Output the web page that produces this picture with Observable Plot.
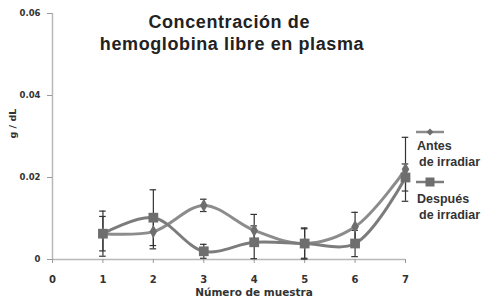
<!DOCTYPE html>
<html>
<head>
<meta charset="utf-8">
<script src="https://cdn.jsdelivr.net/npm/d3@7"></script>
<script src="https://cdn.jsdelivr.net/npm/@observablehq/plot@0.6"></script>
<style>
  body { margin: 0; background: #fff; }
  #wrap { position: relative; width: 495px; height: 306px; font-family: "Liberation Sans", Arial, sans-serif; }
  .title { position: absolute; left: 82px; width: 300px; text-align: center; font-weight: bold; font-size: 18px; letter-spacing: 0.6px; color: #222; line-height: 22px; top: 11px; white-space: nowrap; }
  .leg { position: absolute; left: 417px; font-weight: bold; font-size: 12.5px; color: #333; line-height: 16px; white-space: nowrap; }
  .leg span { display: block; }
  .leg span + span { padding-left: 2px; }
  .legsym { position: absolute; left: 414px; }
</style>
</head>
<body>
<div id="wrap"></div>
<script>
const titleLines = ["Concentración de", "hemoglobina libre en plasma"];
const xLabel = "Número de muestra";
const yLabel = "g / dL";
const seriesNames = ["Antes de irradiar", "Después de irradiar"];
const samples = [1, 2, 3, 4, 5, 6, 7];
const antes = [0.0063, 0.0068, 0.0132, 0.0071, 0.0039, 0.0080, 0.0220];
const antesErr = [0.0055, 0.0042, 0.0015, 0.0039, 0.0038, 0.0035, 0.0078];
const despues = [0.0063, 0.0102, 0.0020, 0.0042, 0.0039, 0.0039, 0.0200];
const despuesErr = [0.0042, 0.0068, 0.0017, 0.0040, 0.0036, 0.0032, 0.0033];
const xTicks = [0, 1, 2, 3, 4, 5, 6, 7];
const yTicks = [0, 0.02, 0.04, 0.06];

const rowsA = samples.map((s, i) => ({x: s, y: antes[i], e: antesErr[i]}));
const rowsD = samples.map((s, i) => ({x: s, y: despues[i], e: despuesErr[i]}));
const allRows = rowsA.concat(rowsD);

const lineColA = "#8c8c8c";
const lineColD = "#7c7c7c";
const markCol = "#6e6e6e";
const errCol = "#333";
const verdanaLike = "'DejaVu Sans', Verdana, sans-serif";

const chart = Plot.plot({
  width: 495, height: 306,
  marginLeft: 52, marginRight: 90, marginTop: 13, marginBottom: 47,
  x: {domain: [0, 7]},
  y: {domain: [0, 0.06]},
  style: {fontFamily: verdanaLike, fontWeight: "bold", color: "#333", background: "transparent"},
  marks: [
    Plot.ruleY([0], {stroke: "#b8b8b8", strokeWidth: 1.5}),
    Plot.ruleX([0], {stroke: "#b8b8b8", strokeWidth: 1.5}),
    Plot.axisY({ticks: yTicks, tickSize: 5, tickPadding: 7, label: null, fontSize: 8.5, stroke: "#999",
      tickFormat: d => d === 0 ? "0" : d.toFixed(2)}),
    Plot.axisX({ticks: xTicks, tickSize: 4, tickPadding: 12, label: null, fontSize: 10, stroke: "#999",
      tickFormat: d => String(d)}),
    Plot.text([xLabel], {frameAnchor: "bottom", dx: 25, dy: 36, fontSize: 10.5, fontWeight: "bold", fill: "#333"}),
    Plot.text([yLabel], {frameAnchor: "left", dx: -40, dy: 2, rotate: -90, fontSize: 9.5, fontWeight: "bold", fill: "#333"}),
    // error bars
    Plot.ruleX(allRows, {x: "x", y1: d => d.y - d.e, y2: d => d.y + d.e, stroke: errCol, strokeWidth: 1.2}),
    Plot.ruleY(allRows, {y: d => d.y + d.e, x1: d => d.x - 0.065, x2: d => d.x + 0.065, stroke: errCol, strokeWidth: 1.2}),
    Plot.ruleY(allRows, {y: d => d.y - d.e, x1: d => d.x - 0.065, x2: d => d.x + 0.065, stroke: errCol, strokeWidth: 1.2}),
    // lines
    Plot.line(rowsA, {x: "x", y: "y", curve: "catmull-rom", stroke: lineColA, strokeWidth: 3}),
    Plot.line(rowsD, {x: "x", y: "y", curve: "catmull-rom", stroke: lineColD, strokeWidth: 3}),
    Plot.dot(rowsA, {x: "x", y: "y", symbol: "diamond", r: 4, fill: markCol}),
    Plot.dot(rowsD, {x: "x", y: "y", symbol: "square", r: 5.5, fill: markCol})
  ]
});

const wrap = document.getElementById("wrap");
wrap.appendChild(chart);
chart.style.position = "absolute";
chart.style.left = "0"; chart.style.top = "0";

const t = document.createElement("div");
t.className = "title";
t.innerHTML = titleLines.map((l, i) => i === 0 ? l + "&nbsp;" : l).join("<br>");
wrap.appendChild(t);

// legend
function legendSym(top, shape) {
  const ns = "http://www.w3.org/2000/svg";
  const s = document.createElementNS(ns, "svg");
  s.setAttribute("width", 32); s.setAttribute("height", 12);
  s.setAttribute("class", "legsym");
  s.style.top = top + "px";
  const l = document.createElementNS(ns, "line");
  l.setAttribute("x1", 2); l.setAttribute("x2", 30); l.setAttribute("y1", 6); l.setAttribute("y2", 6);
  l.setAttribute("stroke", shape === "diamond" ? lineColA : lineColD); l.setAttribute("stroke-width", 2.5);
  s.appendChild(l);
  let m;
  if (shape === "diamond") {
    m = document.createElementNS(ns, "path");
    m.setAttribute("d", "M16,2.5L19.5,6L16,9.5L12.5,6Z");
  } else {
    m = document.createElementNS(ns, "rect");
    m.setAttribute("x", 11.5); m.setAttribute("y", 1.5); m.setAttribute("width", 9); m.setAttribute("height", 9);
  }
  m.setAttribute("fill", markCol);
  s.appendChild(m);
  wrap.appendChild(s);
}
function legendText(top, txt) {
  const d = document.createElement("div");
  d.className = "leg";
  d.style.top = top + "px";
  const parts = txt.split(" ");
  const a = document.createElement("span"); a.textContent = parts[0];
  const b = document.createElement("span"); b.textContent = parts.slice(1).join(" ");
  d.appendChild(a); d.appendChild(b);
  wrap.appendChild(d);
}
legendSym(126, "diamond");
legendText(138, seriesNames[0]);
legendSym(176, "square");
legendText(191, seriesNames[1]);
</script>
</body>
</html>
